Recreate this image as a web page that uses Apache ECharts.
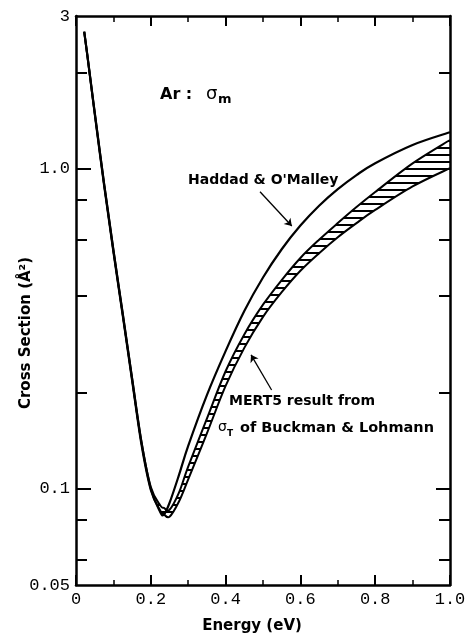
<!DOCTYPE html>
<html><head><meta charset="utf-8">
<script src="https://cdn.jsdelivr.net/npm/echarts@6/dist/echarts.min.js"></script>
<style>html,body{margin:0;padding:0;background:#fff}#c{width:465px;height:635px}</style>
</head><body><div id="c"></div>
<script>
// ---- data ----
const energy    = [0.022, 0.03, 0.05, 0.075, 0.1, 0.125, 0.15, 0.175, 0.2, 0.225, 0.235, 0.25, 0.275, 0.3, 0.35, 0.4, 0.45, 0.5, 0.55, 0.6, 0.65, 0.7, 0.75, 0.8, 0.9, 1.0];
const haddad    = [2.68, 2.28, 1.50, 0.90, 0.557, 0.352, 0.221, 0.140, 0.100, 0.0846, 0.083, 0.0902, 0.110, 0.136, 0.196, 0.269, 0.359, 0.457, 0.560, 0.664, 0.766, 0.863, 0.955, 1.040, 1.186, 1.300];
const mertUpper = [2.68, 2.28, 1.50, 0.90, 0.557, 0.352, 0.221, 0.140, 0.1012, 0.0887, 0.0871, 0.0859, 0.0970, 0.1172, 0.1656, 0.2328, 0.3034, 0.3758, 0.4487, 0.5260, 0.5998, 0.6761, 0.7586, 0.8453, 1.0387, 1.2293];
const mertLower = [2.67, 2.27, 1.48, 0.885, 0.548, 0.346, 0.217, 0.137, 0.0989, 0.0855, 0.0832, 0.0817, 0.0910, 0.1069, 0.1489, 0.2094, 0.2754, 0.3443, 0.4111, 0.4797, 0.5445, 0.6109, 0.6761, 0.7430, 0.8799, 1.0039];
const xTickLabels = ['0', '0.2', '0.4', '0.6', '0.8', '1.0'];
const yLabelValues = [0.05, 0.1, 1, 3];
const yLabelTexts  = ['0.05', '0.1', '1.0', '3'];
const yMajorTicks  = [0.1, 1];
const yMinorTicks  = [2, 0.8, 0.6, 0.4, 0.2, 0.08, 0.06];
// annotation arrows [from, to] in data units
const arrowHaddad = [[0.492, 0.847], [0.577, 0.662]];
const arrowMert   = [[0.523, 0.2034], [0.468, 0.262]];

// ---- hatch pattern ----
const pc = document.createElement('canvas');
pc.width = 8; pc.height = 7;
const pctx = pc.getContext('2d');
pctx.fillStyle = '#000';
pctx.fillRect(0, 0, 8, 2);

// Catmull-Rom spline through pixel points -> SVG path commands
function splinePath(pts, moveFirst) {
  let d = (moveFirst ? 'M' : 'L') + pts[0][0] + ' ' + pts[0][1];
  for (let i = 0; i < pts.length - 1; i++) {
    const p0 = pts[Math.max(i - 1, 0)], p1 = pts[i], p2 = pts[i + 1], p3 = pts[Math.min(i + 2, pts.length - 1)];
    const c1 = [p1[0] + (p2[0] - p0[0]) / 6, p1[1] + (p2[1] - p0[1]) / 6];
    const c2 = [p2[0] - (p3[0] - p1[0]) / 6, p2[1] - (p3[1] - p1[1]) / 6];
    d += ' C' + c1[0] + ' ' + c1[1] + ' ' + c2[0] + ' ' + c2[1] + ' ' + p2[0] + ' ' + p2[1];
  }
  return d;
}

const chart = echarts.init(document.getElementById('c'), null, {renderer: 'canvas'});
const BLACK = '#000';
const frame = {show: true, lineStyle: {color: BLACK, width: 2.5}};
const monoLabel = {color: BLACK, fontFamily: 'Liberation Mono', fontSize: 17};
const titleStyle = {color: BLACK, fontFamily: 'DejaVu Sans', fontWeight: 'bold', fontSize: 15};
const yFmt = v => {
  let best = 0;
  yLabelValues.forEach((t, i) => { if (Math.abs(Math.log(t) - Math.log(v)) < Math.abs(Math.log(yLabelValues[best]) - Math.log(v))) best = i; });
  return yLabelTexts[best];
};
const xFmt = v => xTickLabels[Math.round(v / 0.2)];

function renderBand(params, api) {
  const up = energy.map((e, i) => api.coord([e, mertUpper[i]]));
  const lo = energy.map((e, i) => api.coord([e, mertLower[i]]));
  const loRev = lo.slice().reverse();
  const area = splinePath(up, true) + ' ' + splinePath(loRev, false) + ' Z';
  return {
    type: 'group',
    children: [
      {type: 'path', shape: {pathData: area}, style: {fill: {image: pc, repeat: 'repeat'}, stroke: null}},
      {type: 'path', shape: {pathData: splinePath(up, true)}, style: {fill: null, stroke: BLACK, lineWidth: 2}},
      {type: 'path', shape: {pathData: splinePath(lo, true)}, style: {fill: null, stroke: BLACK, lineWidth: 2}}
    ]
  };
}
function renderHaddad(params, api) {
  const pts = energy.map((e, i) => api.coord([e, haddad[i]]));
  return {type: 'path', shape: {pathData: splinePath(pts, true)}, style: {fill: null, stroke: BLACK, lineWidth: 2.2}};
}

chart.setOption({
  animation: false,
  backgroundColor: '#fff',
  grid: {left: 76, right: 15, top: 16, bottom: 50, containLabel: false, outerBoundsMode: 'none'},
  xAxis: [
    {type: 'value', min: 0, max: 1, interval: 0.2, position: 'bottom',
     axisLine: frame,
     axisTick: {show: true, inside: true, length: 10, lineStyle: {color: BLACK, width: 2}},
     minorTick: {show: true, splitNumber: 2, length: 5, lineStyle: {color: BLACK, width: 1.5}},
     axisLabel: Object.assign({formatter: xFmt, margin: 6}, monoLabel),
     splitLine: {show: false},
     name: 'Energy (eV)', nameLocation: 'middle', nameGap: 34, nameMoveOverlap: false,
     nameTextStyle: Object.assign({padding: [0, 22, 0, 0]}, titleStyle)},
    {type: 'value', min: 0, max: 1, interval: 0.2, position: 'top',
     axisLine: frame,
     axisTick: {show: true, inside: true, length: 10, lineStyle: {color: BLACK, width: 2}},
     minorTick: {show: true, splitNumber: 2, length: 6, lineStyle: {color: BLACK, width: 1.5}},
     axisLabel: {show: false}, splitLine: {show: false}}
  ],
  yAxis: [
    {type: 'log', logBase: 10, min: 0.05, max: 3, position: 'left',
     axisLine: frame,
     axisTick: {show: true, inside: true, length: 15, customValues: yMajorTicks, lineStyle: {color: BLACK, width: 2}},
     axisLabel: Object.assign({customValues: yLabelValues, formatter: yFmt, margin: 6}, monoLabel),
     splitLine: {show: false}, minorTick: {show: false},
     name: 'Cross Section (Å²)', nameLocation: 'middle', nameGap: 42, nameRotate: 90, nameMoveOverlap: false,
     nameTextStyle: Object.assign({padding: [0, 65, 0, 0]}, titleStyle)},
    {type: 'log', logBase: 10, min: 0.05, max: 3, position: 'left',
     axisLine: {show: false},
     axisTick: {show: true, inside: true, length: 11, customValues: yMinorTicks, lineStyle: {color: BLACK, width: 2}},
     axisLabel: {show: false}, splitLine: {show: false}},
    {type: 'log', logBase: 10, min: 0.05, max: 3, position: 'right',
     axisLine: frame,
     axisTick: {show: true, inside: true, length: 14, customValues: yMajorTicks, lineStyle: {color: BLACK, width: 2}},
     axisLabel: {show: false}, splitLine: {show: false}},
    {type: 'log', logBase: 10, min: 0.05, max: 3, position: 'right',
     axisLine: {show: false},
     axisTick: {show: true, inside: true, length: 11, customValues: yMinorTicks, lineStyle: {color: BLACK, width: 2}},
     axisLabel: {show: false}, splitLine: {show: false}}
  ],
  series: [
    {name: 'MERT5 result from σT of Buckman & Lohmann', type: 'custom', coordinateSystem: 'cartesian2d',
     renderItem: renderBand, data: [[0.5, 0.5]], silent: true},
    {name: 'Haddad & O\'Malley', type: 'custom', coordinateSystem: 'cartesian2d',
     renderItem: renderHaddad, data: [[0.5, 0.5]], silent: true},
    {name: 'arrows', type: 'line', data: [], symbol: 'none',
     markLine: {silent: true, symbol: ['none', 'arrow'], symbolSize: 7, label: {show: false},
       lineStyle: {color: BLACK, width: 1.3, type: 'solid'},
       emphasis: {disabled: true},
       data: [
         [{coord: arrowHaddad[0], lineStyle: {curveness: -0.25}}, {coord: arrowHaddad[1]}],
         [{coord: arrowMert[0], lineStyle: {curveness: -0.1}}, {coord: arrowMert[1]}]
       ]}}
  ],
  graphic: [
    {type: 'text', x: 160, y: 95, style: {text: 'Ar :', font: 'bold 16px "DejaVu Sans"', fill: BLACK, verticalAlign: 'middle'}},
    {type: 'text', x: 206, y: 94, style: {text: 'σ', font: '18px "DejaVu Sans"', fill: BLACK, verticalAlign: 'middle'}},
    {type: 'text', x: 218, y: 100, style: {text: 'm', font: 'bold 13px "DejaVu Sans"', fill: BLACK, verticalAlign: 'middle'}},
    {type: 'text', x: 188, y: 180, style: {text: 'Haddad & O\'Malley', font: 'bold 14px "DejaVu Sans"', fill: BLACK, verticalAlign: 'middle'}},
    {type: 'text', x: 229, y: 401, style: {text: 'MERT5 result from', font: 'bold 14px "DejaVu Sans"', fill: BLACK, verticalAlign: 'middle'}},
    {type: 'text', x: 218, y: 427, style: {text: 'σ', font: '14px "DejaVu Sans"', fill: BLACK, verticalAlign: 'middle'}},
    {type: 'text', x: 227, y: 434, style: {text: 'T', font: 'bold 9px "DejaVu Sans"', fill: BLACK, verticalAlign: 'middle'}},
    {type: 'text', x: 240, y: 428, style: {text: 'of Buckman & Lohmann', font: 'bold 14.5px "DejaVu Sans"', fill: BLACK, verticalAlign: 'middle'}}
  ]
});
</script>
</body></html>
